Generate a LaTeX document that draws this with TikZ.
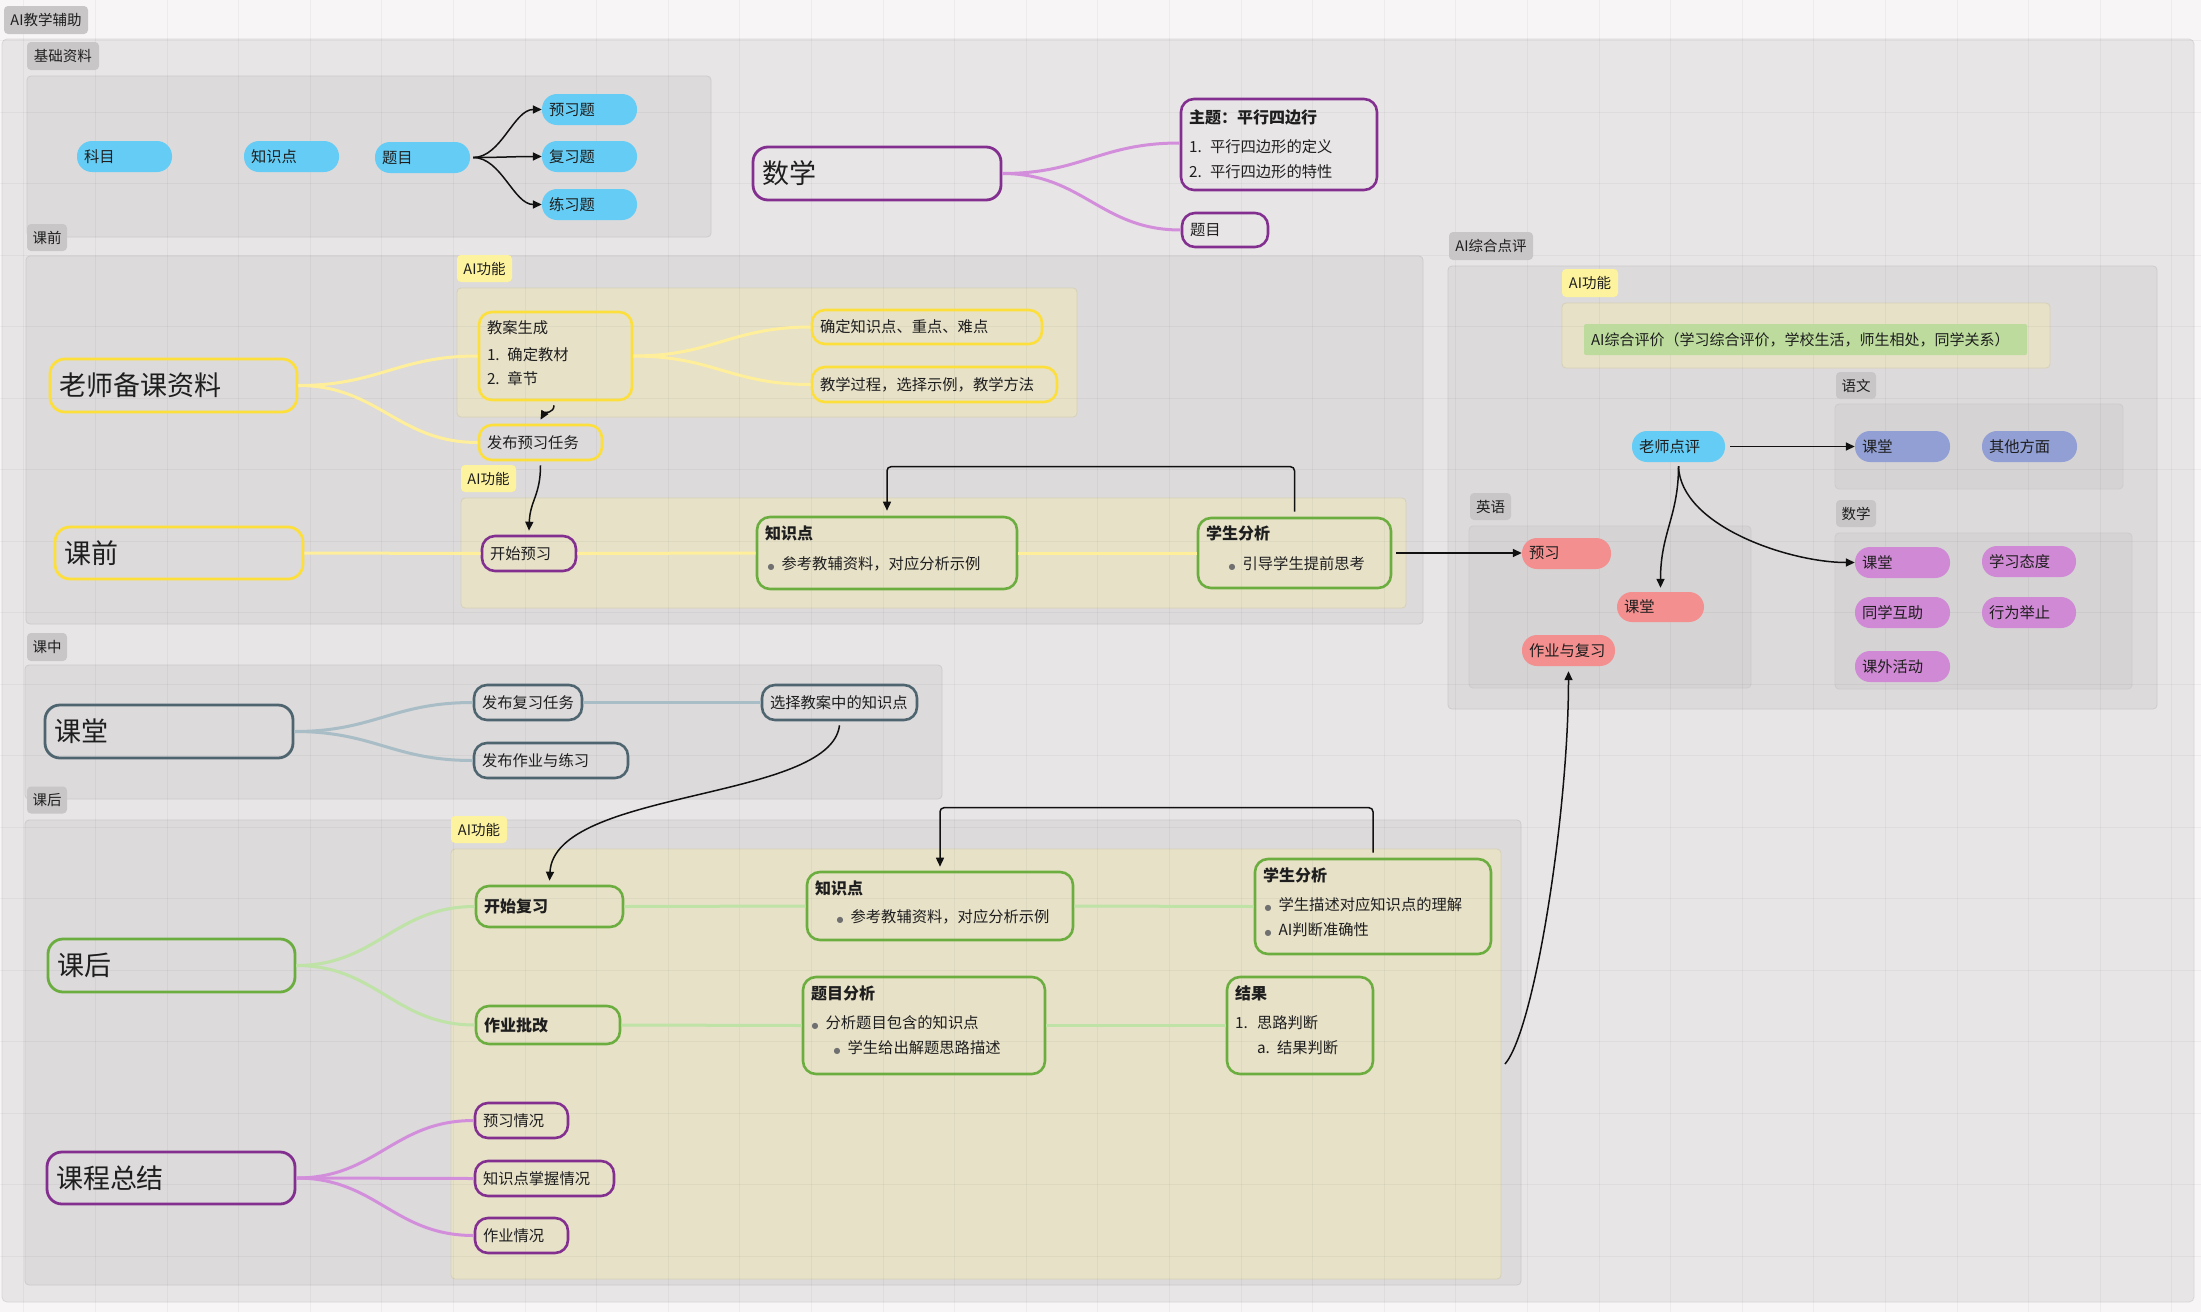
\documentclass[tikz,border=0pt]{standalone}
\usepackage{fontspec}
\setmainfont{Noto Sans CJK SC}
\newfontfamily\dejavu{DejaVu Sans}
\usetikzlibrary{arrows.meta}
\definecolor{pagebg}{HTML}{F8F5F6}
\definecolor{outerc}{HTML}{E8E5E6}
\definecolor{outerl}{HTML}{DAD6D8}
\definecolor{grpc}{HTML}{DCDADB}
\definecolor{grpl}{HTML}{CDCBCC}
\definecolor{grp2}{HTML}{D5D3D4}
\definecolor{aibg}{HTML}{E7E1C8}
\definecolor{aibl}{HTML}{D6D0B8}
\definecolor{lblgray}{HTML}{C8C6C7}
\definecolor{lblyellow}{HTML}{FDF29D}
\definecolor{cy}{HTML}{65CDF5}
\definecolor{salmon}{HTML}{F3908F}
\definecolor{violet}{HTML}{D089D4}
\definecolor{bluep}{HTML}{919FD4}
\definecolor{greenrect}{HTML}{BCDB9C}
\definecolor{ydraw}{HTML}{FDDF3C}
\definecolor{yline}{HTML}{FFEF9A}
\definecolor{pdraw}{HTML}{822F90}
\definecolor{pline}{HTML}{D38EDB}
\definecolor{gdraw}{HTML}{6BAE3F}
\definecolor{gline}{HTML}{BFE2A6}
\definecolor{sdraw}{HTML}{4E6570}
\definecolor{sline}{HTML}{A8BDC5}
\definecolor{txt}{HTML}{1E1E1E}
\definecolor{dotgray}{HTML}{707070}
\definecolor{arrc}{HTML}{111111}
\newcommand\bdot{\textcolor{dotgray}{\dejavu\fontsize{8}{8}\selectfont ●}}
\newcommand\bul[1]{\hspace*{#1}\makebox[14pt][l]{\bdot}}
\newcommand\numl[2]{\makebox[#1][l]{#2}}
\newcommand\ttl[1]{{\bfseries\fontsize{16}{25.5}\selectfont #1}}
\newcommand\lift[1]{\\[#1]\mbox{}}
\begin{document}
\begin{tikzpicture}[x=1pt,y=-1pt,
  arr/.style={-{Triangle[length=9pt,width=8pt]}, line width=1.5pt, draw=arrc},
  grp/.style={fill=grpc, draw=grpl, line width=0.8pt, rounded corners=4pt},
  grpin/.style={fill=grp2, draw=grpl, line width=0.8pt, rounded corners=4pt},
  aib/.style={fill=aibg, draw=aibl, line width=0.8pt, rounded corners=4pt},
  lbl/.style={fill=lblgray, rounded corners=4pt, inner sep=0pt, text=txt, font=\fontsize{14.5}{16}\selectfont},
  ylbl/.style={lbl, fill=lblyellow},
  pill/.style={fill=#1, rounded corners=15pt, inner xsep=7pt, inner ysep=0pt, align=left, text=txt, font=\fontsize{15.3}{18}\selectfont},
  bx/.style={draw=#1, line width=2.6pt, rounded corners=13pt, inner xsep=8pt, inner ysep=0pt, align=left, text=txt, font=\fontsize{15.3}{25.5}\selectfont},
  big/.style={draw=#1, line width=2.8pt, rounded corners=15pt, inner xsep=9pt, inner ysep=0pt, align=left, text=txt, font=\fontsize{27}{30}\selectfont},
  yl/.style={draw=yline, line width=3pt},
  pl/.style={draw=pline, line width=3pt},
  gl/.style={draw=gline, line width=3pt},
  sl/.style={draw=sline, line width=3pt},
  gridl/.style={draw=black, draw opacity=0.04, line width=1pt}]
\useasboundingbox (0,0) rectangle (2201,1312);
\fill[pagebg] (0,0) rectangle (2201,1312);
% containers
\path[fill=outerc, draw=outerl, line width=0.8pt, rounded corners=5pt] (2,39) rectangle (2194,1302);
\path[grp] (27,76) rectangle (711,237);
\path[grp] (26,256) rectangle (1423,624);
\path[aib] (457,288) rectangle (1077,417);
\path[aib] (461,498) rectangle (1406,608);
\path[grp] (25,665) rectangle (942,799);
\path[grp] (25,820) rectangle (1521,1285);
\path[aib] (451,849) rectangle (1501,1279);
\path[grp] (1448,266) rectangle (2157,709);
\path[aib] (1562,303) rectangle (2050,368);
\path[grpin] (1835,404) rectangle (2123,489);
\path[grpin] (1469,526) rectangle (1751,688);
\path[grpin] (1835,533) rectangle (2132,689);
% grid
\foreach \gx in {0,...,30} \draw[gridl] ({23.8+71.6*\gx},0) -- ++(0,1312);
\foreach \gy in {0,...,17} \draw[gridl] (0,{40.5+71.5*\gy}) -- ++(2201,0);
% labels
\node[lbl, minimum width=84pt, minimum height=28pt] (lblMain) at (46,20) {AI教学辅助};
\node[lbl, minimum width=72pt, minimum height=28pt] (lblBase) at (63,56) {基础资料};
\node[lbl, minimum width=40pt, minimum height=27pt] (lblPre) at (47,237.5) {课前};
\node[lbl, minimum width=40pt, minimum height=28pt] (lblIn) at (47,647) {课中};
\node[lbl, minimum width=40pt, minimum height=27pt] (lblPost) at (47,800) {课后};
\node[lbl, minimum width=84pt, minimum height=28pt] (lblEval) at (1491,246) {AI综合点评};
\node[ylbl, minimum width=55pt, minimum height=27pt] (ai1) at (484.5,268.5) {AI功能};
\node[ylbl, minimum width=55pt, minimum height=27pt] (ai2) at (488.5,478.5) {AI功能};
\node[ylbl, minimum width=56pt, minimum height=27pt] (ai3) at (479,829.5) {AI功能};
\node[ylbl, minimum width=56pt, minimum height=28pt] (ai4) at (1590,283) {AI功能};
\node[lbl, minimum width=40pt, minimum height=27pt] (lblYw) at (1856,385.5) {语文};
\node[lbl, minimum width=41pt, minimum height=27pt] (lblYy) at (1490.5,506.5) {英语};
\node[lbl, minimum width=40pt, minimum height=27pt] (lblSx) at (1856,513.5) {数学};
% base pills
\node[pill=cy, text width=81pt, minimum height=31pt] (kemu) at (124.5,156.5) {科目};
\node[pill=cy, text width=81pt, minimum height=31pt] (zsd0) at (291.5,156.5) {知识点};
\node[pill=cy, text width=81pt, minimum height=31pt] (tm0) at (422.5,157.5) {题目};
\node[pill=cy, text width=81pt, minimum height=31pt] (yxt) at (589.5,109.5) {预习题};
\node[pill=cy, text width=81pt, minimum height=31pt] (fxt) at (589.5,156.5) {复习题};
\node[pill=cy, text width=81pt, minimum height=31pt] (lxt) at (589.5,204.5) {练习题};
% math topic
\node[big=pdraw, text width=230pt, minimum height=53pt] (shuxue) at (877,173.5) {数学};
\node[bx=pdraw, text width=180pt, minimum height=91pt] (zhuti) at (1279,144.5) {\ttl{主题：平行四边行}\\[3.5pt]\numl{21pt}{1.}平行四边形的定义\\[-0.5pt]\numl{21pt}{2.}平行四边形的特性};
\node[bx=pdraw, text width=70pt, minimum height=34pt] (timu1) at (1225,230) {题目};
% pre-class
\node[big=ydraw, text width=229pt, minimum height=53pt] (lsbk) at (173.5,385.5) {老师备课资料};
\node[bx=ydraw, text width=137pt, minimum height=88pt] (jasc) at (555.5,356) {教案生成\\[1.5pt]\numl{20.5pt}{1.}确定教材\\[-1.5pt]\numl{20.5pt}{2.}章节\lift{-19pt}};
\node[bx=ydraw, text width=214pt, minimum height=34pt] (qdzs) at (927,327) {确定知识点、重点、难点};
\node[bx=ydraw, text width=229pt, minimum height=35pt] (jxgc) at (934.5,384.5) {教学过程，选择示例，教学方法};
\node[bx=ydraw, text width=107pt, minimum height=35pt] (fbyx) at (540.5,442.5) {发布预习任务};
\node[big=ydraw, text width=230pt, minimum height=52pt] (kq) at (179,553) {课前};
\node[bx=pdraw, text width=78pt, minimum height=35pt] (ksyx) at (529,553.5) {开始预习};
\node[bx=gdraw, text width=244pt, minimum height=72pt] (zsd1) at (887,553) {\ttl{知识点}\\[4.5pt]\bul{2.6pt}参考教辅资料，对应分析示例\lift{-14pt}};
\node[bx=gdraw, text width=177pt, minimum height=70pt] (xsfx1) at (1294.5,553) {\ttl{学生分析}\\[4.5pt]\bul{22.6pt}引导学生提前思考\lift{-14pt}};
% in-class
\node[big=sdraw, text width=230pt, minimum height=53pt] (ketang) at (169,731.5) {课堂};
\node[bx=sdraw, text width=92pt, minimum height=35pt] (fbfx) at (528,702.5) {发布复习任务};
\node[bx=sdraw, text width=138pt, minimum height=35pt] (fbzy) at (551,760.5) {发布作业与练习};
\node[bx=sdraw, text width=139pt, minimum height=35pt] (xzja) at (839.5,702.5) {选择教案中的知识点};
% after class
\node[big=gdraw, text width=229pt, minimum height=53pt] (kh) at (171.5,965.5) {课后};
\node[bx=gdraw, text width=131pt, minimum height=41pt] (ksfx) at (549.5,906.5) {\ttl{开始复习}};
\node[bx=gdraw, text width=250pt, minimum height=68pt] (zsd2) at (940,906) {\ttl{知识点}\\[2.5pt]\bul{21.6pt}参考教辅资料，对应分析示例\lift{-16pt}};
\node[bx=gdraw, text width=220pt, minimum height=95pt] (xsfx2) at (1373,906.5) {\ttl{学生分析}\\[3.5pt]\bul{1.6pt}学生描述对应知识点的理解\\\bul{1.6pt}AI判断准确性\lift{-16pt}};
\node[bx=gdraw, text width=128pt, minimum height=38pt] (zypg) at (548,1025) {\ttl{作业批改}};
\node[bx=gdraw, text width=226pt, minimum height=97pt] (tmfx) at (924,1025.5) {\ttl{题目分析}\\[3.5pt]\bul{0.6pt}分析题目包含的知识点\\\bul{22.6pt}学生给出解题思路描述\lift{-14pt}};
\node[bx=gdraw, text width=130pt, minimum height=97pt] (jg) at (1300,1025.5) {\ttl{结果}\\[3.5pt]\numl{22pt}{1.}思路判断\\\hspace*{22pt}\numl{20pt}{a.}结果判断\lift{-14pt}};
% summary
\node[big=pdraw, text width=230pt, minimum height=52pt] (kczj) at (171,1178) {课程总结};
\node[bx=pdraw, text width=77pt, minimum height=35pt] (yxqk) at (521.5,1120.5) {预习情况};
\node[bx=pdraw, text width=123pt, minimum height=35pt] (zsdzw) at (544.5,1178.5) {知识点掌握情况};
\node[bx=pdraw, text width=77pt, minimum height=35pt] (zyqk) at (521.5,1235.5) {作业情况};
% evaluation
\node[pill=greenrect, rounded corners=2pt, text width=429pt, minimum height=31pt, font=\fontsize{15}{18}\selectfont] (aizh) at (1805.5,339.5) {AI综合评价（学习综合评价，学校生活，师生相处，同学关系）};
\node[pill=cy, text width=79pt, minimum height=31pt] (lsdp) at (1678.5,446.5) {老师点评};
\node[pill=bluep, text width=81pt, minimum height=31pt] (ywkt) at (1902.5,446.5) {课堂};
\node[pill=bluep, text width=81pt, minimum height=31pt] (qtfm) at (2029.5,446.5) {其他方面};
\node[pill=salmon, text width=75pt, minimum height=31pt] (eyx) at (1566.5,553.5) {预习};
\node[pill=salmon, text width=73pt, minimum height=30pt] (ekt) at (1660.5,607) {课堂};
\node[pill=salmon, text width=79pt, minimum height=31pt] (ezy) at (1568.5,650.5) {作业与复习};
\node[pill=violet, text width=81pt, minimum height=31pt] (mkt) at (1902.5,562.5) {课堂};
\node[pill=violet, text width=80pt, minimum height=31pt] (mxt) at (2029,561.5) {学习态度};
\node[pill=violet, text width=81pt, minimum height=31pt] (mtx) at (1902.5,612.5) {同学互助};
\node[pill=violet, text width=80pt, minimum height=31pt] (mxw) at (2029,612.5) {行为举止};
\node[pill=violet, text width=81pt, minimum height=31pt] (mkw) at (1902.5,666.5) {课外活动};
\coordinate (hwStart) at (1505,1064);
% --- connectors ---
\draw[arr] ([xshift=3pt]tm0.east) .. controls +(28,0) and +(-28,0) .. (yxt.west);
\draw[arr] ([xshift=3pt]tm0.east) .. controls +(28,0) and +(-28,0) .. (fxt.west);
\draw[arr] ([xshift=3pt]tm0.east) .. controls +(28,0) and +(-28,0) .. (lxt.west);
\draw[pl] (shuxue.east) .. controls +(80,0) and +(-80,0) .. ([yshift=1.5pt]zhuti.west);
\draw[pl] (shuxue.east) .. controls +(80,0) and +(-80,0) .. (timu1.west);
\draw[yl] (lsbk.east) .. controls +(80,0) and +(-80,0) .. (jasc.west);
\draw[yl] (lsbk.east) .. controls +(80,0) and +(-80,0) .. (fbyx.west);
\draw[yl] (jasc.east) .. controls +(80,0) and +(-80,0) .. (qdzs.west);
\draw[yl] (jasc.east) .. controls +(80,0) and +(-80,0) .. (jxgc.west);
\draw[arr] ([shift={(-1.5,4)}]jasc.south) .. controls +(0,8) and +(4,-7) .. ([yshift=4pt]fbyx.north);
\draw[arr] ([shift={(0,4)}]fbyx.south) .. controls +(0,30) and +(1,-30) .. ([yshift=4pt]ksyx.north);
\draw[yl] (kq.east) -- (ksyx.west);
\draw[yl] (ksyx.east) -- (zsd1.west);
\draw[yl] (zsd1.east) -- (xsfx1.west);
\draw[arr, rounded corners=4pt] ([yshift=5pt]xsfx1.north) |- ([yshift=49pt]zsd1.north) -- ([yshift=5pt]zsd1.north);
\draw[arr] ([xshift=4pt]xsfx1.east) -- (eyx.west |- xsfx1.east);
\draw[sl] (ketang.east) .. controls +(80,0) and +(-80,0) .. (fbfx.west);
\draw[sl] (ketang.east) .. controls +(80,0) and +(-80,0) .. (fbzy.west);
\draw[sl] (fbfx.east) -- (xzja.west);
\draw[arr] ([yshift=-4pt]xzja.south) .. controls +(-9,76) and +(5,-92) .. ([yshift=4pt]ksfx.north);
\draw[gl] (kh.east) .. controls +(80,0) and +(-80,0) .. (ksfx.west);
\draw[gl] (kh.east) .. controls +(80,0) and +(-80,0) .. (zypg.west);
\draw[gl] (ksfx.east) -- (zsd2.west);
\draw[gl] (zsd2.east) -- (xsfx2.west);
\draw[gl] (zypg.east) -- (tmfx.west);
\draw[gl] (tmfx.east) -- (jg.west);
\draw[arr, rounded corners=4pt] ([yshift=5pt]xsfx2.north) |- ([yshift=63pt]zsd2.north) -- ([yshift=4pt]zsd2.north);
\draw[pl] (kczj.east) .. controls +(80,0) and +(-80,0) .. (yxqk.west);
\draw[pl] (kczj.east) -- (zsdzw.west);
\draw[pl] (kczj.east) .. controls +(80,0) and +(-80,0) .. (zyqk.west);
\draw[arr] ([xshift=5pt]lsdp.east) -- (ywkt.west);
\draw[arr] ([yshift=-4pt]lsdp.south) .. controls +(0,50) and +(0,-55) .. ([yshift=4pt]ekt.north);
\draw[arr] ([yshift=-4pt]lsdp.south) .. controls +(2,60) and +(-65,0) .. (mkt.west);
\draw[arr] (hwStart) .. controls +(30,-35) and +(0,140) .. ([yshift=-5pt]ezy.south);
\end{tikzpicture}
\end{document}
